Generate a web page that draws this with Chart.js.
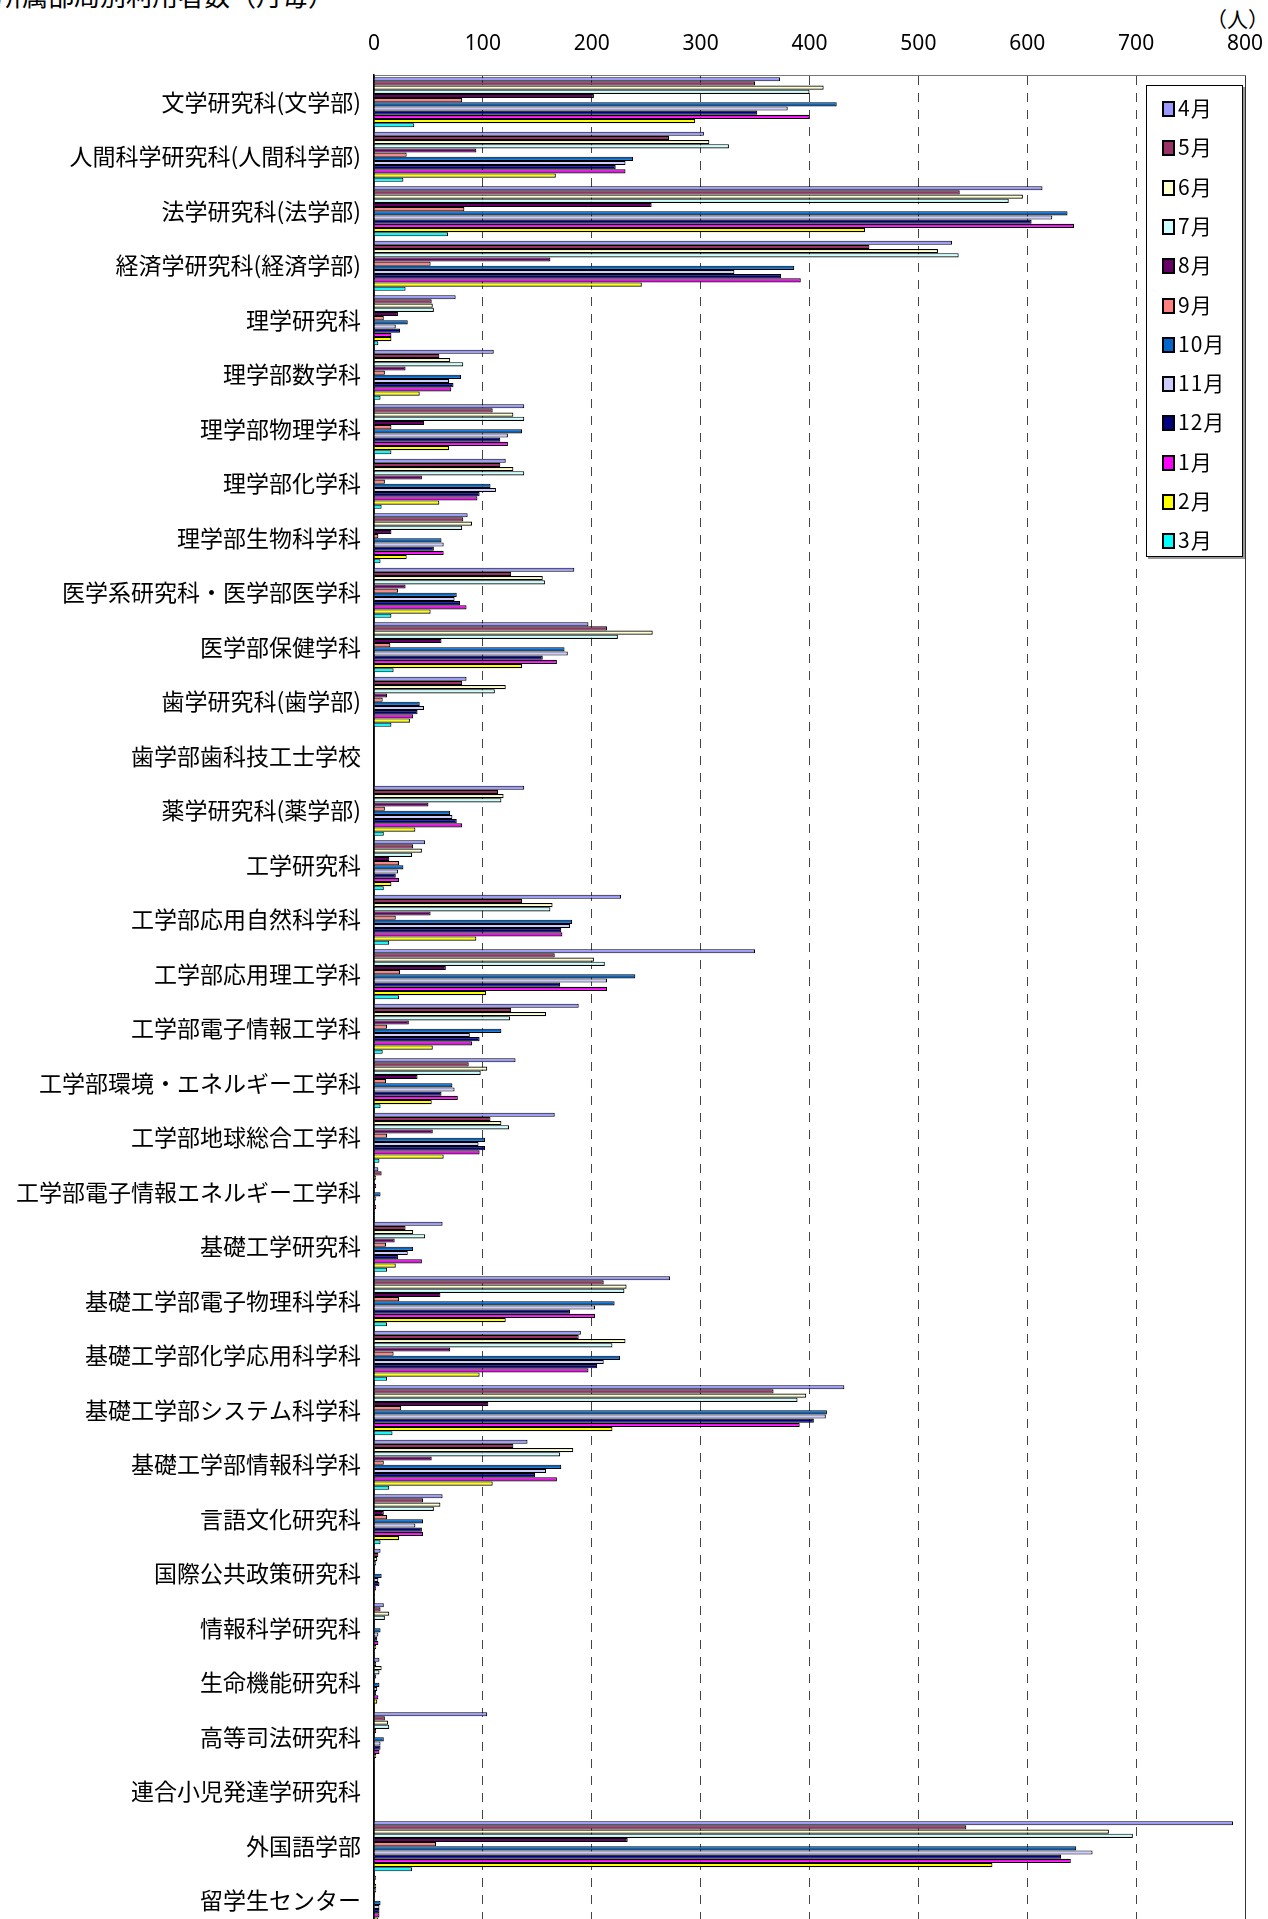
<!DOCTYPE html>
<html>
<head>
<meta charset="utf-8">
<script src="https://cdn.jsdelivr.net/npm/chart.js@4"></script>
<style>
  html, body { margin: 0; padding: 0; background: #fff; }
  body { width: 1268px; height: 1919px; overflow: hidden; position: relative; font-family: "Noto Sans CJK JP", sans-serif; }
  #title { position: absolute; left: -4px; top: -18px; font-size: 26px; line-height: 26px; color: #000; white-space: nowrap; }
  #unit { position: absolute; left: 1206px; top: 6px; font-size: 21px; line-height: 24px; color: #000; }
  #wrap { position: absolute; left: 0; top: 0; }
  #legend { position: absolute; left: 1146px; top: 85px; width: 95px; height: 470px; border: 1px solid #000; background: #fff; box-shadow: 2px 2px 0 #999; }
  .item { position: absolute; left: 15px; height: 26px; font-size: 21px; line-height: 26px; color: #000; white-space: nowrap; letter-spacing: 1px; }
  .sw { display: inline-block; width: 9px; height: 12px; border: 2px solid #000; vertical-align: -1px; margin-right: 3px; }
</style>
</head>
<body>
<div id="title">所属部局別利用者数（月毎）</div>
<div id="unit">（人）</div>
<div id="wrap"><canvas id="chart" width="1268" height="1928"></canvas></div>
<div id="legend"></div>
<script>
// categories (top to bottom)
const categories = [
  "文学研究科(文学部)", "人間科学研究科(人間科学部)", "法学研究科(法学部)", "経済学研究科(経済学部)",
  "理学研究科", "理学部数学科", "理学部物理学科", "理学部化学科", "理学部生物科学科",
  "医学系研究科・医学部医学科", "医学部保健学科", "歯学研究科(歯学部)", "歯学部歯科技工士学校",
  "薬学研究科(薬学部)", "工学研究科", "工学部応用自然科学科", "工学部応用理工学科",
  "工学部電子情報工学科", "工学部環境・エネルギー工学科", "工学部地球総合工学科",
  "工学部電子情報エネルギー工学科", "基礎工学研究科", "基礎工学部電子物理科学科",
  "基礎工学部化学応用科学科", "基礎工学部システム科学科", "基礎工学部情報科学科",
  "言語文化研究科", "国際公共政策研究科", "情報科学研究科", "生命機能研究科",
  "高等司法研究科", "連合小児発達学研究科", "外国語学部", "留学生センター"
];

const months = ["4月", "5月", "6月", "7月", "8月", "9月", "10月", "11月", "12月", "1月", "2月", "3月"];
const monthColors = ["#9999FF", "#993366", "#FFFFCC", "#CCFFFF", "#660066", "#FF8080",
                     "#0066CC", "#CCCCFF", "#000080", "#FF00FF", "#FFFF00", "#00FFFF"];

// one array per month, same order as categories
const apr = [373,303,614,531,75,110,138,121,86,184,197,85,0,138,47,227,350,188,130,166,4,63,272,190,432,141,63,6,9,5,104,0,789,2];
const may = [350,271,538,455,53,60,109,116,82,126,214,81,0,114,36,136,166,126,87,107,7,29,211,188,367,128,45,4,6,2,10,0,544,1];
const jun = [413,308,596,518,54,70,128,128,90,155,256,121,0,119,44,164,202,158,104,117,2,36,232,231,397,183,61,3,14,7,13,0,675,2];
const jul = [400,326,583,537,55,82,138,138,81,157,224,111,0,117,35,162,212,125,98,124,1,47,230,219,389,171,55,2,10,5,14,0,697,2];
const aug = [202,94,255,162,22,29,46,44,16,29,62,12,0,50,14,52,66,32,40,54,2,19,61,70,105,53,9,1,1,2,2,0,233,1];
const sep = [81,30,83,52,9,10,16,10,4,22,15,8,0,10,23,20,24,12,11,12,0,11,23,18,25,9,12,0,0,0,0,0,57,1];
const oct = [425,238,637,386,31,80,136,107,62,76,175,42,0,70,27,182,240,117,72,102,6,36,221,226,416,172,45,7,6,5,9,0,645,6];
const nov = [380,231,623,331,20,69,123,112,64,74,178,46,0,72,22,180,214,88,74,96,2,31,203,211,415,158,38,4,4,3,6,0,660,5];
const dec = [352,222,604,374,24,73,116,97,55,79,155,40,0,76,20,172,171,97,62,102,1,22,180,205,404,148,44,5,3,2,6,0,631,5];
const jan = [400,231,643,392,16,71,123,95,64,85,168,36,0,81,23,173,214,90,77,97,2,44,203,197,391,168,45,2,4,4,5,0,640,5];
const feb = [295,167,451,246,16,42,69,60,30,52,136,33,0,38,16,94,103,54,53,64,1,20,121,97,219,109,23,1,2,3,2,0,568,4];
const mar = [37,27,68,29,4,6,16,7,6,16,18,16,0,9,9,14,23,8,6,5,1,12,12,12,17,14,6,1,1,0,1,0,35,2];

const seriesValues = [apr, may, jun, jul, aug, sep, oct, nov, dec, jan, feb, mar];
const xTicks = [0, 100, 200, 300, 400, 500, 600, 700, 800];

const datasets = months.map((m, i) => ({
  label: m,
  data: seriesValues[i],
  backgroundColor: monthColors[i],
  borderColor: "#000",
  borderWidth: 1.1,
  borderSkipped: "start",
}));

new Chart(document.getElementById("chart"), {
  type: "bar",
  data: { labels: categories, datasets: datasets },
  options: {
    indexAxis: "y",
    responsive: false,
    animation: false,
    devicePixelRatio: 1,
    layout: { padding: { left: 0, right: 23, top: 0, bottom: 0 } },
    datasets: { bar: { categoryPercentage: 0.92, barPercentage: 1.0 } },
    scales: {
      x: {
        position: "top",
        min: 0,
        max: 800,
        afterFit: (s) => { s.height = 75; s.paddingLeft = 0; s.paddingRight = 0; },
        afterBuildTicks: (s) => { s.ticks = xTicks.map((v) => ({ value: v })); },
        ticks: {
          color: "#000",
          padding: 18,
          font: { family: "'Noto Sans', 'Noto Sans CJK JP', sans-serif", size: 21 },
        },
        grid: {
          drawTicks: false,
          color: (c) => (c.tick && (c.tick.value === 800) ? "#333" : "#444"),
          lineWidth: 1,
        },
        border: {
          display: true,
          color: "#777",
          width: 1,
          dash: (c) => (c.tick && (c.tick.value === 0 || c.tick.value === 800) ? [] : [9, 8]),
        },
      },
      y: {
        afterFit: (s) => { s.width = 374; s.paddingTop = 0; s.paddingBottom = 0; },
        ticks: {
          color: "#000",
          padding: 5,
          autoSkip: false,
          font: { family: "'Noto Sans CJK JP', sans-serif", size: 23 },
        },
        grid: { display: false },
        border: { display: true, color: "#000", width: 1.5 },
      },
    },
    plugins: {
      legend: { display: false },
      tooltip: { enabled: false },
    },
  },
});

// legend box inside plot area
const legend = document.getElementById("legend");
months.forEach((m, i) => {
  const el = document.createElement("div");
  el.className = "item";
  el.style.top = (8 + i * 39.3) + "px";
  el.innerHTML = '<span class="sw" style="background:' + monthColors[i] + '"></span>' + m;
  legend.appendChild(el);
});
</script>
</body>
</html>
